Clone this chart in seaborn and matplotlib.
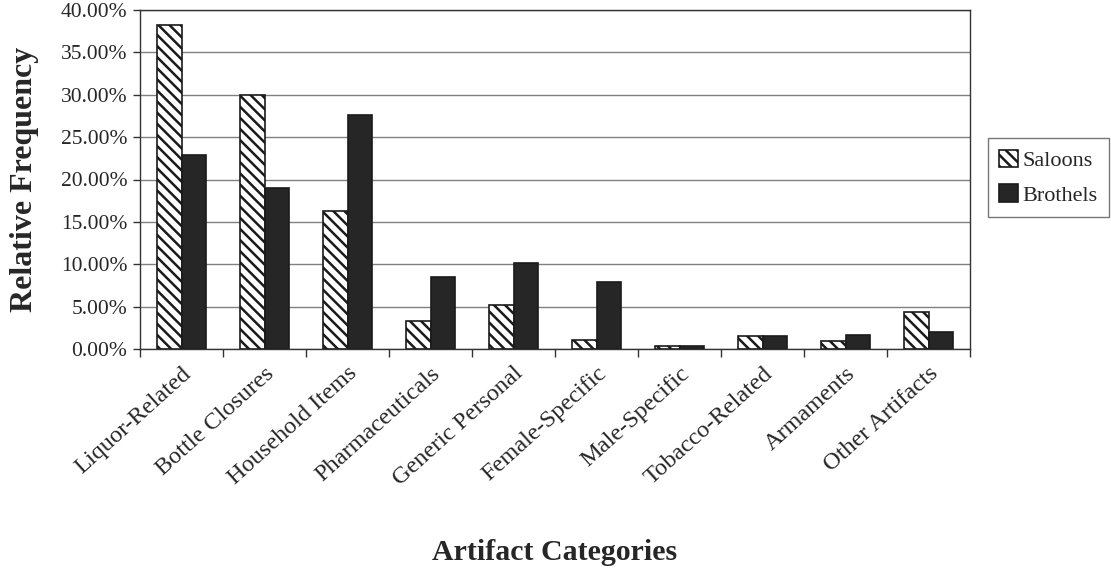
import matplotlib
matplotlib.use("Agg")
import matplotlib.pyplot as plt
import numpy as np
import pandas as pd
import seaborn as sns
from matplotlib.ticker import FixedLocator, PercentFormatter

categories = [
    "Liquor-Related", "Bottle Closures", "Household Items", "Pharmaceuticals",
    "Generic Personal", "Female-Specific", "Male-Specific", "Tobacco-Related",
    "Armaments", "Other Artifacts",
]
saloons = [38.2, 30.0, 16.3, 3.3, 5.2, 1.1, 0.3, 1.5, 1.0, 4.4]
brothels = [22.9, 19.0, 27.6, 8.5, 10.1, 7.9, 0.3, 1.5, 1.7, 2.0]
series = ["Saloons", "Brothels"]

df = pd.DataFrame({
    "category": categories * 2,
    "value": saloons + brothels,
    "site": [series[0]] * len(categories) + [series[1]] * len(categories),
})

sns.set_theme(style="white")
plt.rcParams["font.family"] = ["Liberation Serif", "DejaVu Serif"]
plt.rcParams["hatch.linewidth"] = 1.8

fig = plt.figure(figsize=(11.11, 5.69), dpi=100)
ax = fig.add_axes([140 / 1111, 1 - 349 / 569, 830 / 1111, 339 / 569])

sns.barplot(data=df, x="category", y="value", hue="site", hue_order=series,
            palette=["white", "#262626"], width=0.6, edgecolor="#1a1a1a",
            linewidth=1.2, ax=ax, legend=False)

for bar in ax.containers[0]:
    bar.set_hatch("\\\\\\")

ax.set_ylim(0, 40)
ax.set_xlim(-0.5, len(categories) - 0.5)
ax.yaxis.set_major_formatter(PercentFormatter(decimals=2))
ax.set_yticks(np.arange(0, 41, 5))
ax.yaxis.grid(True, color="#808080", linewidth=1.0)
ax.set_axisbelow(True)

ax.set_xticks(range(len(categories)))
ax.set_xticklabels(categories, rotation=42, ha="right", rotation_mode="anchor", fontsize=17.5)
ax.tick_params(axis="x", which="major", length=0, pad=10)
ax.xaxis.set_minor_locator(FixedLocator(np.arange(-0.5, len(categories), 1)))
ax.tick_params(axis="x", which="minor", length=6, width=1, color="#333333", bottom=True)
ax.tick_params(axis="y", which="major", length=5, width=1, color="#333333", left=True, labelsize=15.5, pad=4)

for side in ["left", "bottom", "top", "right"]:
    ax.spines[side].set_color("#333333")
    ax.spines[side].set_linewidth(1.0)

ax.set_ylabel("Relative Frequency", fontsize=23, fontweight="bold", labelpad=16)
ax.set_xlabel("Artifact Categories", fontsize=21.5, fontweight="bold")
ax.xaxis.set_label_coords(0.5, -0.56)

handles = [ax.containers[0][0], ax.containers[1][0]]
leg = ax.legend(handles, series, loc="center left", bbox_to_anchor=(1.022, 0.505), fontsize=16,
                frameon=True, fancybox=False, edgecolor="#555555",
                handlelength=0.85, handleheight=0.85, handletextpad=0.2,
                borderpad=0.5, labelspacing=0.6, borderaxespad=0)
leg.get_frame().set_linewidth(1.0)

fig.savefig("out.png", dpi=100)
